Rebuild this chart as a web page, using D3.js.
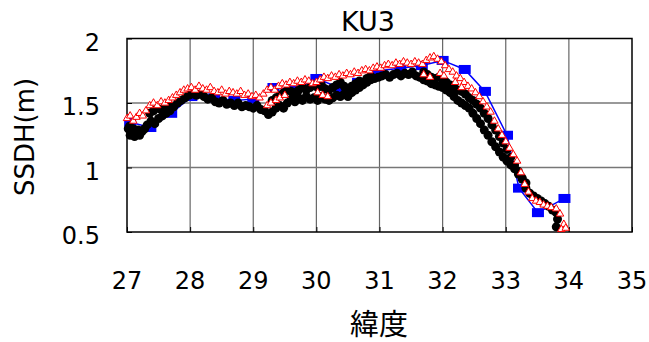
<!DOCTYPE html>
<html><head><meta charset="utf-8">
<script src="https://cdn.jsdelivr.net/npm/d3@7"></script>
<style>html,body{margin:0;padding:0;background:#fff;}svg{display:block;}</style>
</head><body>
<script>
const title = "KU3";
const xLabel = "緯度";
const yLabel = "SSDH(m)";
const xTicks = [27, 28, 29, 30, 31, 32, 33, 34, 35];
const yTicks = [0.5, 1, 1.5, 2];

// Blue squares (with line)
const blueLat = [27.05, 27.37, 27.7, 28.02, 28.38, 28.7, 29.0, 29.32, 29.66, 30.0, 30.36, 30.66, 30.98, 31.33, 31.67, 32.0, 32.35, 32.67, 33.02, 33.21, 33.51, 33.93];
const blueVal = [1.35, 1.31, 1.42, 1.55, 1.54, 1.52, 1.53, 1.62, 1.60, 1.69, 1.62, 1.66, 1.75, 1.77, 1.79, 1.83, 1.76, 1.59, 1.25, 0.84, 0.65, 0.76];

// Black circles, main (lower) track
const blackA = [[27.02,1.30],[27.05,1.25],[27.08,1.27],[27.12,1.24],[27.16,1.26],[27.2,1.25],[27.24,1.28],[27.28,1.30],[27.32,1.33],[27.38,1.36],[27.44,1.34],[27.5,1.38],[27.56,1.40],[27.62,1.42],[27.68,1.44],[27.74,1.47],[27.8,1.50],[27.86,1.52],[27.92,1.54],[27.98,1.56],[28.04,1.57],[28.1,1.56],[28.16,1.57],[28.22,1.55],[28.28,1.53],[28.34,1.54],[28.4,1.51],[28.46,1.50],[28.52,1.52],[28.58,1.49],[28.64,1.50],[28.7,1.48],[28.76,1.50],[28.82,1.47],[28.88,1.48],[28.94,1.47],[29.0,1.46],[29.06,1.48],[29.12,1.45],[29.18,1.44],[29.24,1.41],[29.3,1.43],[29.36,1.46],[29.42,1.48],[29.48,1.46],[29.54,1.50],[29.6,1.53],[29.66,1.51],[29.72,1.54],[29.78,1.52],[29.84,1.55],[29.9,1.53],[29.96,1.54],[30.02,1.52],[30.08,1.55],[30.14,1.53],[30.2,1.52],[30.26,1.54],[30.32,1.56],[30.38,1.55],[30.44,1.57],[30.5,1.55],[30.56,1.58],[30.62,1.60],[30.68,1.62],[30.74,1.64],[30.8,1.66],[30.86,1.68],[30.92,1.69],[30.98,1.70],[31.04,1.71],[31.1,1.72],[31.16,1.70],[31.22,1.72],[31.28,1.73],[31.34,1.71],[31.4,1.73],[31.46,1.72],[31.52,1.74],[31.58,1.71],[31.64,1.70],[31.7,1.68],[31.76,1.67],[31.82,1.65],[31.88,1.64],[31.94,1.63],[32.0,1.62],[32.06,1.60],[32.12,1.58],[32.18,1.55],[32.24,1.52],[32.3,1.50],[32.36,1.48],[32.42,1.46],[32.48,1.42],[32.54,1.38],[32.6,1.34],[32.66,1.29],[32.72,1.25],[32.78,1.20],[32.84,1.16],[32.9,1.12],[32.96,1.08],[33.02,1.05],[33.08,1.02],[33.14,0.99],[33.2,0.95],[33.26,0.91],[33.32,0.84],[33.38,0.80],[33.44,0.78],[33.5,0.76],[33.56,0.74],[33.62,0.72],[33.68,0.70],[33.74,0.67],[33.8,0.65],[33.82,0.60],[33.8,0.54]];

// Black circles, second (upper) track
const blackB = [[27.04,1.32],[27.1,1.30],[27.18,1.29],[27.36,1.42],[27.42,1.44],[27.48,1.46],[27.54,1.45],[27.6,1.47],[27.66,1.49],
[29.3,1.52],[29.36,1.54],[29.42,1.56],[29.48,1.58],[29.54,1.60],[29.6,1.59],[29.66,1.58],[29.72,1.60],[29.78,1.62],[29.84,1.60],[29.9,1.62],[29.96,1.64],[30.02,1.62],[30.08,1.64],[30.14,1.61],[30.2,1.60],[30.26,1.62],[30.32,1.64],[30.38,1.66],[30.44,1.63],[30.5,1.61],[30.56,1.63],[30.62,1.65],[30.68,1.67],[30.74,1.66],[30.8,1.69],[30.86,1.71],
[31.7,1.74],[31.76,1.72],[31.82,1.70],[31.88,1.69],[31.94,1.70],[32.0,1.68],[32.06,1.66],[32.12,1.64],[32.18,1.62],[32.24,1.60],[32.3,1.59],[32.36,1.57],[32.42,1.54],[32.48,1.52],[32.54,1.49],[32.6,1.46],[32.66,1.42],[32.72,1.38],[32.78,1.33],[32.84,1.29],[32.9,1.24],[32.96,1.19],[33.02,1.14],[33.08,1.08],[33.14,1.02],[33.2,0.97],[33.26,0.92],[33.32,0.88]];

// Red open triangles, main track
const redA = [[27.0,1.38],[27.05,1.40],[27.1,1.36],[27.15,1.39],[27.2,1.42],[27.25,1.40],[27.3,1.44],[27.36,1.48],[27.42,1.50],[27.48,1.48],[27.54,1.51],[27.6,1.50],[27.66,1.52],[27.72,1.54],[27.78,1.56],[27.84,1.58],[27.9,1.60],[27.96,1.61],[28.02,1.62],[28.08,1.60],[28.14,1.63],[28.2,1.61],[28.26,1.60],[28.32,1.62],[28.38,1.59],[28.44,1.58],[28.5,1.60],[28.56,1.57],[28.62,1.59],[28.68,1.58],[28.74,1.57],[28.8,1.59],[28.86,1.56],[28.92,1.57],[28.98,1.55],[29.04,1.56],[29.1,1.54],[29.16,1.57],[29.22,1.60],[29.28,1.62],[29.34,1.60],[29.4,1.63],[29.46,1.65],[29.52,1.64],[29.58,1.66],[29.64,1.65],[29.7,1.67],[29.76,1.66],[29.82,1.68],[29.88,1.67],[29.94,1.65],[30.0,1.66],[30.06,1.68],[30.12,1.70],[30.18,1.69],[30.24,1.71],[30.3,1.70],[30.36,1.72],[30.42,1.71],[30.48,1.73],[30.54,1.72],[30.6,1.74],[30.66,1.73],[30.72,1.75],[30.78,1.76],[30.84,1.75],[30.9,1.77],[30.96,1.78],[31.02,1.77],[31.08,1.79],[31.14,1.80],[31.2,1.79],[31.26,1.81],[31.32,1.80],[31.38,1.82],[31.44,1.81],[31.5,1.80],[31.56,1.82],[31.62,1.81],[31.68,1.80],[31.74,1.83],[31.8,1.85],[31.86,1.86],[31.92,1.84],[31.98,1.82],[32.04,1.79],[32.1,1.76],[32.16,1.74],[32.22,1.71],[32.28,1.69],[32.34,1.66],[32.4,1.63],[32.46,1.61],[32.52,1.58],[32.58,1.55],[32.64,1.51],[32.7,1.47],[32.76,1.43],[32.82,1.36],[32.88,1.30],[32.94,1.25],[33.0,1.20],[33.06,1.15],[33.12,1.10],[33.18,1.05],[33.24,0.96],[33.3,0.87],[33.36,0.81],[33.42,0.76],[33.48,0.74],[33.54,0.73],[33.6,0.71],[33.66,0.70],[33.72,0.69],[33.8,0.68],[33.86,0.64],[33.92,0.56],[33.88,0.52],[33.95,0.53]];

// Red open triangles, secondary points
const redB = [[29.22,1.48],[29.28,1.50],[29.36,1.52],[29.42,1.54],[29.5,1.56],[30.02,1.58],[30.1,1.56],[30.18,1.55],[31.7,1.72],[31.8,1.70],[31.96,1.73],[32.02,1.71],[32.2,1.66],[32.3,1.62]];

const W = 649, H = 342;
const svg = d3.select("body").append("svg").attr("width", W).attr("height", H);
const x = d3.scaleLinear().domain([27, 35]).range([127, 632]);
const y = d3.scaleLinear().domain([0.5, 2]).range([232, 38.5]);
const num = "DejaVu Sans, sans-serif";

// grid
svg.append("g").selectAll("line").data(xTicks.slice(1, -1)).join("line")
  .attr("x1", d => x(d)).attr("x2", d => x(d)).attr("y1", y(2)).attr("y2", y(0.5))
  .attr("stroke", "#666").attr("stroke-width", 1.2);
svg.append("g").selectAll("line").data(yTicks.slice(1, -1)).join("line")
  .attr("x1", x(27)).attr("x2", x(35)).attr("y1", d => y(d)).attr("y2", d => y(d))
  .attr("stroke", "#777").attr("stroke-width", 1.5);

// axes (inner ticks, no labels)
const xAxis = d3.axisBottom(x).tickValues(xTicks).tickSize(-5).tickFormat("");
const yAxis = d3.axisLeft(y).tickValues(yTicks).tickSize(-5).tickFormat("");
svg.append("g").attr("transform", `translate(0,${y(0.5)})`).call(xAxis)
  .call(g => g.select(".domain").remove()).selectAll("line").attr("stroke", "#000");
svg.append("g").attr("transform", `translate(${x(27)},0)`).call(yAxis)
  .call(g => g.select(".domain").remove()).selectAll("line").attr("stroke", "#000");

// frame
svg.append("rect").attr("x", x(27)).attr("y", y(2)).attr("width", x(35) - x(27)).attr("height", y(0.5) - y(2))
  .attr("fill", "none").attr("stroke", "#000").attr("stroke-width", 1.5);

const plot = svg.append("g");
const line = d3.line().x(d => x(d[0])).y(d => y(d[1]));

// blue series
const blue = blueLat.map((d, i) => [d, blueVal[i]]);
plot.append("path").datum(blue).attr("d", line).attr("fill", "none").attr("stroke", "#0000ff").attr("stroke-width", 1.5);
plot.append("g").selectAll("rect").data(blue).join("rect")
  .attr("x", d => x(d[0]) - 6).attr("y", d => y(d[1]) - 4.5).attr("width", 12).attr("height", 9).attr("fill", "#0000ff");

// black series
plot.append("path").datum(blackA).attr("d", line).attr("fill", "none").attr("stroke", "#000").attr("stroke-width", 1);
plot.append("g").selectAll("circle").data(blackA.concat(blackB)).join("circle")
  .attr("cx", d => x(d[0])).attr("cy", d => y(d[1])).attr("r", 4.5).attr("fill", "#000");

// red series
const tri = d3.symbol().type(d3.symbolTriangle).size(24);
plot.append("g").selectAll("path").data(redA.concat(redB)).join("path")
  .attr("d", tri).attr("transform", d => `translate(${x(d[0])},${y(d[1])})`)
  .attr("fill", "#fff").attr("stroke", "#ff0000").attr("stroke-width", 1);

// tick labels
svg.append("g").selectAll("text").data(xTicks).join("text")
  .attr("x", d => x(d)).attr("y", 289).attr("text-anchor", "middle")
  .attr("font-family", num).attr("font-size", 24).attr("fill", "#000").text(d => d);
svg.append("g").selectAll("text").data(yTicks).join("text")
  .attr("x", 100).attr("y", d => y(d) + 12).attr("text-anchor", "end")
  .attr("font-family", num).attr("font-size", 24).attr("fill", "#000").text(d => d);

// title & labels
svg.append("text").attr("x", 368).attr("y", 31).attr("text-anchor", "middle")
  .attr("font-family", num).attr("font-size", 27).attr("fill", "#000").text(title);
svg.append("text").attr("transform", "translate(34,137) rotate(-90)").attr("text-anchor", "middle")
  .attr("font-family", num).attr("font-size", 26).attr("fill", "#000").text(yLabel);
svg.append("text").attr("x", 379).attr("y", 335).attr("text-anchor", "middle")
  .attr("font-family", "'Noto Sans CJK JP', sans-serif").attr("font-size", 29).attr("fill", "#000").text(xLabel);
</script>
</body></html>
